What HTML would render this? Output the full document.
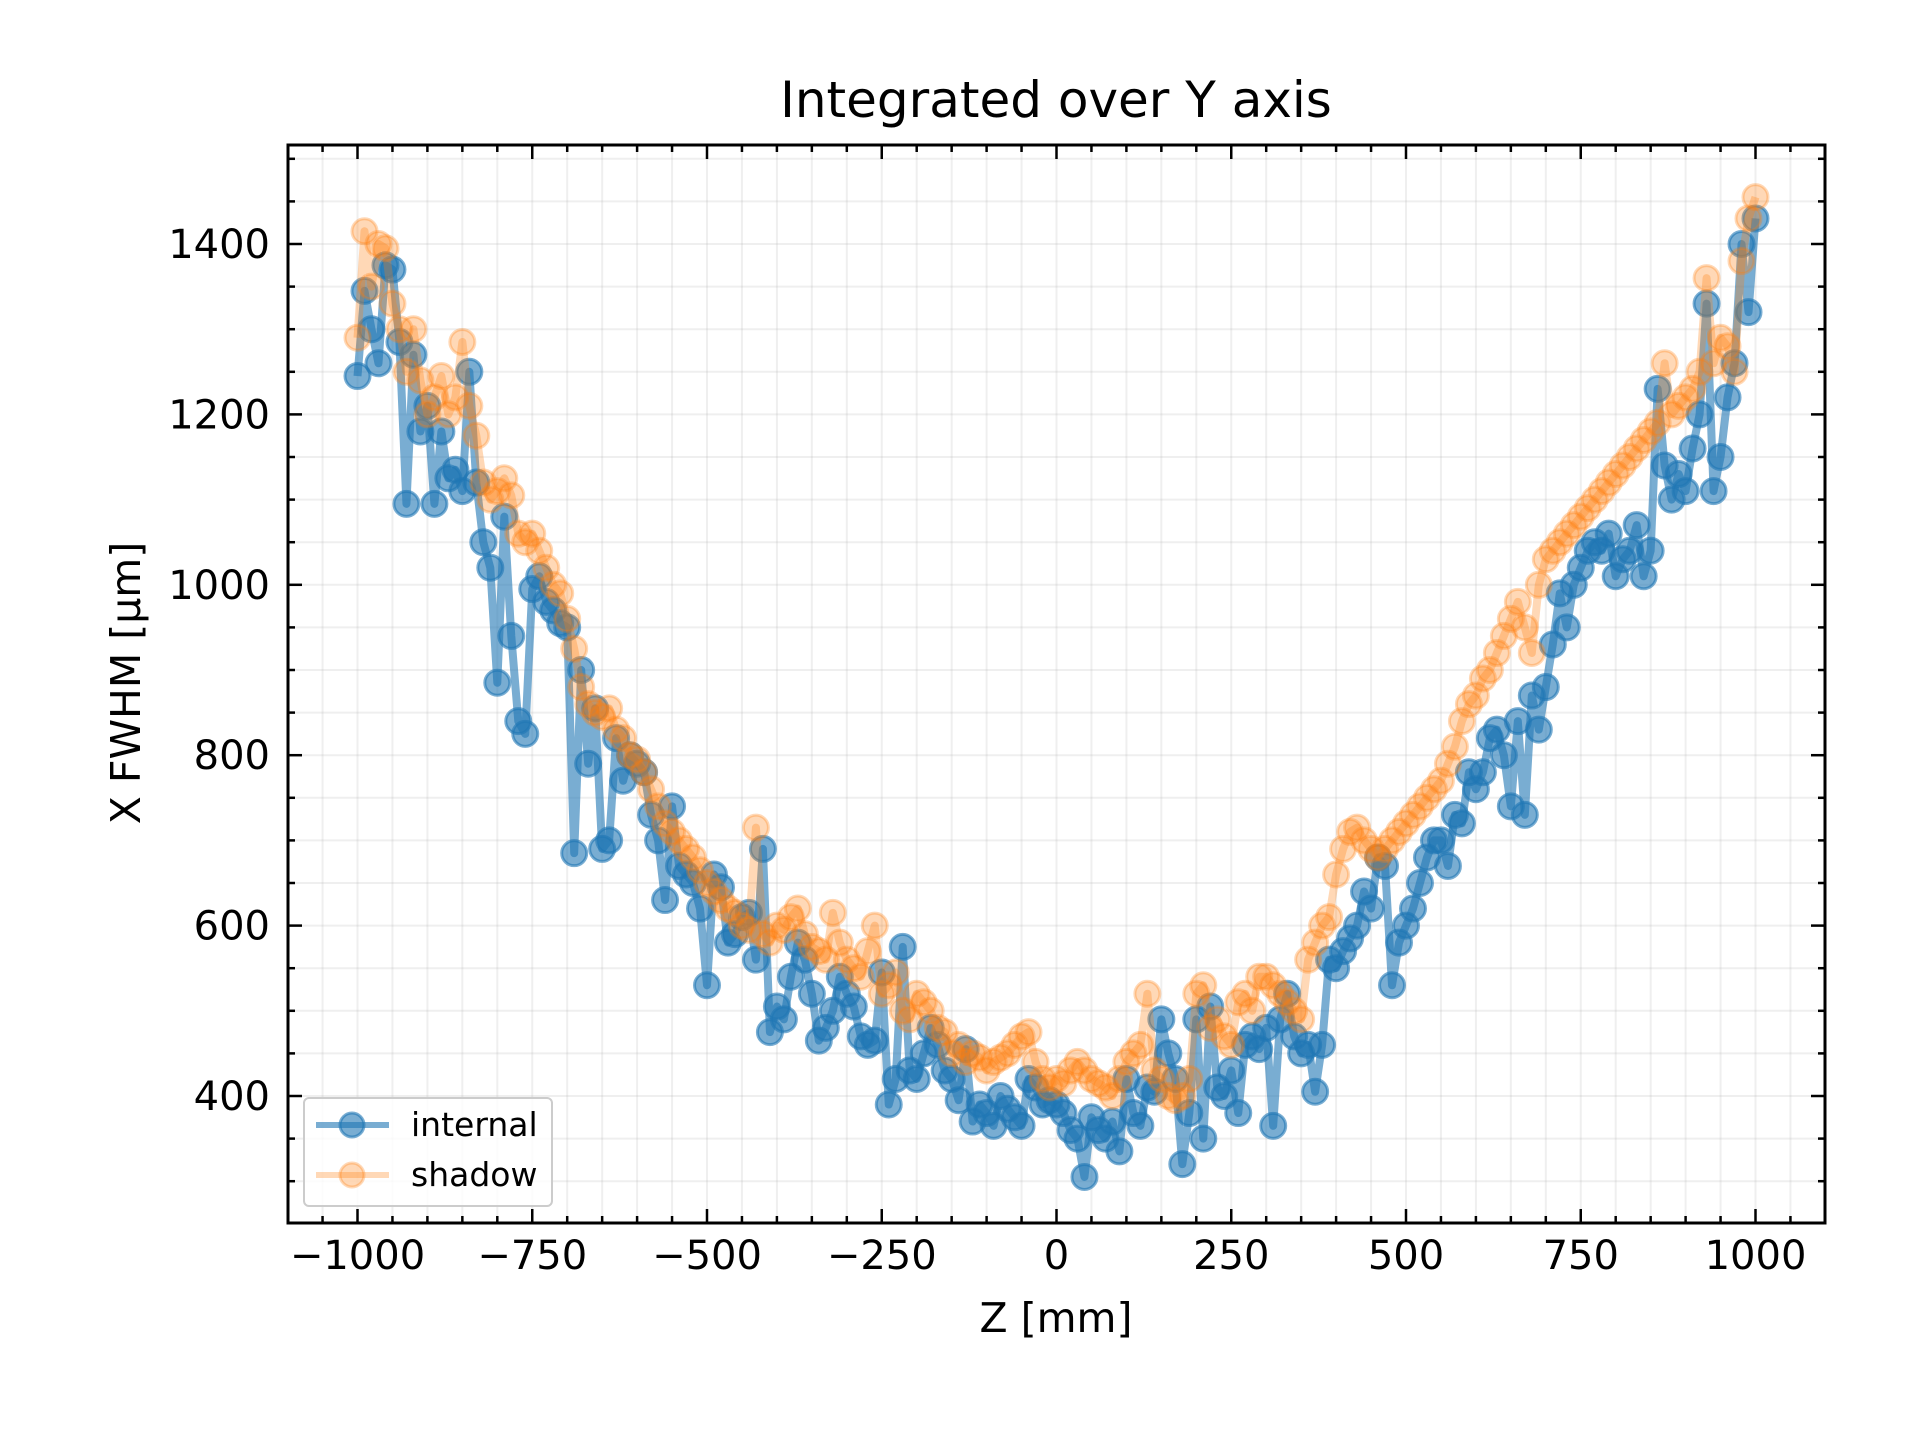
<!DOCTYPE html>
<html><head><meta charset="utf-8"><style>
body{margin:0;background:#fff;}
svg text{font-family:"DejaVu Sans","Liberation Sans",sans-serif;fill:#000;}
</style></head><body>
<svg id="chart" width="1920" height="1440" xmlns="http://www.w3.org/2000/svg">
<rect width="1920" height="1440" fill="#fff"/>
<g id="grid"></g>
<g id="series"></g>
<g id="axes"></g>
<text x="1056" y="117" font-size="50" text-anchor="middle">Integrated over Y axis</text>
<text x="1056" y="1332" font-size="41" text-anchor="middle">Z [mm]</text>
<text transform="translate(140,683) rotate(-90)" font-size="41" text-anchor="middle">X FWHM [µm]</text>
<g>
<rect x="304" y="1098" width="248" height="108" rx="5" fill="#fff" fill-opacity="0.8" stroke="#ccc" stroke-width="2"/>
<g>
<line x1="316" y1="1125" x2="389" y2="1125" stroke="#1f77b4" stroke-opacity="0.6" stroke-width="6"/>
<circle cx="352" cy="1125" r="12" fill="#1f77b4" fill-opacity="0.6" stroke="#1f77b4" stroke-opacity="0.6" stroke-width="3"/>
<text x="411" y="1136" font-size="33">internal</text></g>
<g>
<line x1="316" y1="1175" x2="389" y2="1175" stroke="#ff7f0e" stroke-opacity="0.3" stroke-width="6"/>
<circle cx="352" cy="1175" r="12" fill="#ff7f0e" fill-opacity="0.3" stroke="#ff7f0e" stroke-opacity="0.3" stroke-width="3"/>
<text x="411" y="1186" font-size="33">shadow</text></g>
</g>
</svg>
<script>
const zStart=-1000, zStep=10;
const internalValues=[1245,1345,1300,1260,1375,1370,1285,1095,1270,1180,
1210,1095,1180,1125,1135,1110,1250,1120,1050,1020,
885,1080,940,840,825,995,1010,980,970,955,
950,685,900,790,855,690,700,820,770,800,
790,780,730,700,630,740,670,660,650,620,
530,660,645,580,590,610,615,560,690,475,
505,490,540,580,560,520,465,480,500,540,
520,505,470,460,465,545,390,420,575,430,
420,450,480,460,430,420,395,455,370,390,
380,365,400,385,375,365,420,410,390,395,
390,380,360,350,305,375,360,350,370,335,
420,380,365,410,405,490,450,420,320,380,
490,350,505,410,400,430,380,460,470,455,
480,365,490,520,470,450,460,405,460,560,
550,570,585,600,640,620,680,670,530,580,
600,620,650,680,700,700,670,730,720,780,
760,780,820,830,800,740,840,730,870,830,
880,930,990,950,1000,1020,1040,1050,1040,1060,
1010,1030,1040,1070,1010,1040,1230,1140,1100,1130,
1110,1160,1200,1330,1110,1150,1220,1260,1400,1320,1430];
const shadowValues=[1290,1415,1350,1400,1395,1330,1300,1250,1300,1240,
1200,1220,1245,1200,1220,1285,1210,1175,1120,1100,
1110,1125,1105,1060,1050,1060,1040,1020,1000,990,
960,925,880,860,850,845,855,830,820,800,
795,780,760,740,720,710,700,690,680,665,
650,640,630,620,615,600,595,715,590,580,
600,595,610,620,590,575,570,560,615,580,
560,550,540,570,600,520,530,545,500,490,
520,510,500,480,475,450,460,440,450,445,
430,440,445,450,460,470,475,440,420,410,
420,415,430,440,430,420,415,410,400,420,
440,450,460,520,430,420,400,395,400,420,
520,530,480,490,470,460,510,520,500,540,
540,530,520,510,500,490,560,580,600,610,
660,690,710,715,700,690,680,690,700,710,
720,730,740,750,760,770,790,810,840,860,
870,890,900,920,940,960,980,950,920,1000,
1030,1040,1050,1060,1070,1080,1090,1100,1110,1120,
1130,1140,1150,1160,1170,1180,1190,1260,1200,1210,
1220,1230,1250,1360,1260,1290,1280,1250,1380,1430,1455];
const xTicks=[-1000,-750,-500,-250,0,250,500,750,1000];
const xTickLabels=["\u22121000","\u2212750","\u2212500","\u2212250","0","250","500","750","1000"];
const yTicks=[400,600,800,1000,1200,1400];
const yTickLabels=["400","600","800","1000","1200","1400"];

const L=288,R=1825,T=145,B=1223;
const X=z=>357.5+(z+1000)*0.699;
const Y=v=>244+(1400-v)*0.852;
const NS="http://www.w3.org/2000/svg";
function mk(tag,attrs,parent){const e=document.createElementNS(NS,tag);for(const k in attrs)e.setAttribute(k,attrs[k]);parent.appendChild(e);return e;}
const grid=document.getElementById('grid'),axes=document.getElementById('axes'),ser=document.getElementById('series');
for(let z=-1100;z<=1100;z+=50){const x=X(z);if(x<L||x>R)continue;const major=z%250===0;
 const g=mk('line',{x1:x,x2:x,y1:T,y2:B,stroke:'#b0b0b0','stroke-opacity':0.2,'stroke-width':2},grid);
 
 
 const len=major?14:7;
 mk('line',{x1:x,x2:x,y1:B,y2:B-len,stroke:'#000','stroke-width':2.5},axes);
 mk('line',{x1:x,x2:x,y1:T,y2:T+len,stroke:'#000','stroke-width':2.5},axes);}
for(let v=250;v<=1550;v+=50){const y=Y(v);if(y<T||y>B)continue;const major=v%200===0;
 const g=mk('line',{x1:L,x2:R,y1:y,y2:y,stroke:'#b0b0b0','stroke-opacity':0.2,'stroke-width':2},grid);
 
 
 const len=major?14:7;
 mk('line',{x1:L,x2:L+len,y1:y,y2:y,stroke:'#000','stroke-width':2.5},axes);
 mk('line',{x1:R,x2:R-len,y1:y,y2:y,stroke:'#000','stroke-width':2.5},axes);}
const frame=mk('rect',{x:L,y:T,width:R-L,height:B-T,fill:'none',stroke:'#000','stroke-width':3},axes);


xTicks.forEach((t,i)=>{const e=mk('text',{x:X(t),y:1269,'font-size':40,'text-anchor':'middle'},axes);e.textContent=xTickLabels[i];
 
 });
yTicks.forEach((t,i)=>{const e=mk('text',{x:270,y:Y(t)+14,'font-size':40,'text-anchor':'end'},axes);e.textContent=yTickLabels[i];
 
 });
function draw(vals,color,op,name){
 const g=mk('g',{},ser);
 
 
 const pts=vals.map((v,i)=>X(zStart+i*zStep)+','+Y(v)).join(' ');
 const pl=mk('polyline',{points:pts,fill:'none',stroke:color,'stroke-opacity':op,'stroke-width':8,'stroke-linejoin':'round'},g);
 
 
 vals.forEach((v,i)=>{const c=mk('circle',{cx:X(zStart+i*zStep),cy:Y(v),r:12.5,fill:color,'fill-opacity':op,stroke:color,'stroke-opacity':op,'stroke-width':3},g);
  
  });
}
draw(internalValues,'#1f77b4',0.6,'internal');
draw(shadowValues,'#ff7f0e',0.3,'shadow');
</script>
</body></html>
